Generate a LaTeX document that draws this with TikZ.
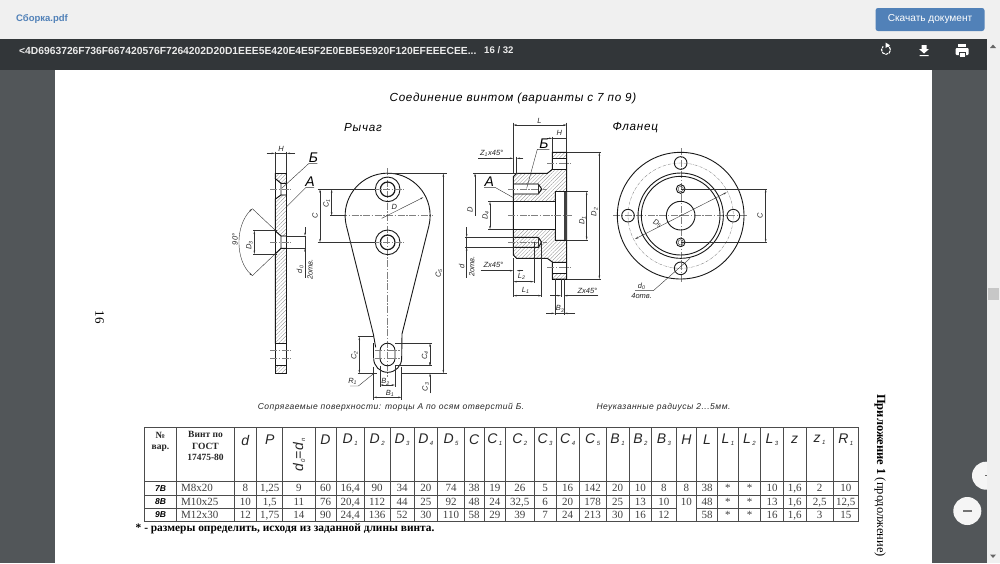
\documentclass[tikz,border=0pt]{standalone}
\usepackage{fontspec}
\setmainfont{Liberation Serif}
\newfontfamily\gostfont{Liberation Sans}
\newfontfamily\widefont[LetterSpace=6]{Liberation Sans}
\usetikzlibrary{arrows.meta,patterns.meta}

\definecolor{toolbar}{HTML}{323639}
\definecolor{viewer}{HTML}{525659}
\definecolor{topband}{HTML}{F0F0F0}
\definecolor{vkblue}{HTML}{5181B8}

\newcommand{\hdr}[2]{#1\kern1.5pt\raisebox{-2pt}{\fontsize{6}{6}\selectfont #2}}

\tikzset{
  outline/.style={line width=.9pt,black!90},
  thinline/.style={line width=.4pt,black!80},
  axisline/.style={line width=.35pt,black!50,dash pattern=on 7pt off 1.5pt on 1.5pt off 1.5pt},
  dimline/.style={line width=.4pt,black!80,<->,>={Stealth[length=3.5pt,width=1.6pt]}},
  dimtip/.style={line width=.4pt,black!80,->,>={Stealth[length=3.5pt,width=1.6pt]}},
  hatched/.style={pattern={Lines[angle=45,distance=2.6pt,line width=.3pt]},pattern color=black!45},
  dimlabel/.style={font=\gostfont\itshape\fontsize{7.5}{8}\selectfont,inner sep=0pt,black!85},
  biglabel/.style={font=\gostfont\itshape\fontsize{14}{14}\selectfont,inner sep=0pt},
  titlelabel/.style={font=\widefont\itshape\fontsize{11.7}{13}\selectfont,inner sep=0pt},
  notelabel/.style={font=\widefont\itshape\fontsize{8.5}{10}\selectfont,inner sep=0pt,black!85},
  headcell/.style={font=\gostfont\itshape\fontsize{14}{14}\selectfont,inner sep=0pt,black!85},
  headserif/.style={font=\bfseries\fontsize{9.5}{11.5}\selectfont,inner sep=0pt,align=center,black!85},
  datacell/.style={font=\fontsize{11}{11}\selectfont,inner sep=0pt,text height=7pt,text depth=0pt,black!75},
  rowcell/.style={font=\gostfont\bfseries\itshape\fontsize{8.5}{9}\selectfont,inner sep=0pt},
  tablegrid/.style={line width=.8pt,black!70},
  uitext/.style={font=\gostfont\fontsize{10}{12}\selectfont,inner sep=0pt},
  leverview/.style={shift={(220,110)},x=.33333pt,y=-.33333pt},
  sectionview/.style={shift={(460,110)},x=.33333pt,y=-.33333pt},
  frontview/.style={shift={(600,115)},x=.33333pt,y=-.33333pt},
}

\begin{document}
\begin{tikzpicture}[x=1pt,y=-1pt]
\useasboundingbox (0,0) rectangle (1000,563);

% viewer
\fill[viewer] (0,0) rectangle (1000,563);
\fill[white] (55,69) rectangle (931.5,563);
\fill[topband] (0,0) rectangle (1000,39);
\fill[toolbar] (0,39) rectangle (1000,69.5);
\node[uitext,anchor=west,text=vkblue,font=\gostfont\bfseries\fontsize{9.5}{12}\selectfont] (fileName) at (16,19) {Сборка.pdf};
\fill[vkblue,rounded corners=2.5pt] (875.5,8) rectangle (984.5,31);
\node[uitext,text=white,font=\gostfont\fontsize{10.1}{12}\selectfont] (saveLabel) at (930,19) {Скачать документ};
\node[uitext,anchor=west,text=white!92!black,font=\gostfont\bfseries\fontsize{10.3}{12}\selectfont] (pdfName) at (19,50.5) {<4D6963726F736F667420576F7264202D20D1EEE5E420E4E5F2E0EBE5E920F120EFEEECEE...};
\node[uitext,anchor=west,text=white!92!black,font=\gostfont\bfseries\fontsize{9.6}{12}\selectfont] (pageCount) at (484,50.5) {16 / 32};

% toolbar icons
\draw[white,line width=1.1pt,dash pattern=on 3pt off .8pt] (886,45.3) arc[start angle=270,end angle=590,radius=4.5];
\fill[white] (885.5,42.5) -- (890,45.3) -- (885.5,48) -- cycle;
\fill[white] (921.5,45) rectangle (926.5,49) (919,49) -- (929,49) -- (924,53.5) -- cycle (919.5,55) rectangle (928.5,56.2);
\fill[white,rounded corners=1pt] (955.5,48) rectangle (968.5,55);
\fill[white] (958,44) rectangle (966,47);
\fill[toolbar] (958.5,51.5) rectangle (965.5,55);
\fill[white] (959.5,52.5) rectangle (964.5,57);

% zoom buttons, scrollbar
\fill[white!96!black] (986,475.7) circle (14);
\fill[black!60] (984.5,475.2) rectangle (987,476.2);
\fill[white!96!black] (967.3,511) circle (14);
\fill[black!55] (962.5,510.4) rectangle (972,511.6);
\fill[topband] (987,39) rectangle (1000,563);
\fill[black!22] (988,288) rectangle (998.5,300);
\fill[black!60] (993,44.5) -- (996,48) -- (990,48) -- cycle;
\fill[black!60] (993,558) -- (996,554.5) -- (990,554.5) -- cycle;

% headings
\node[titlelabel] (mainTitle) at (513,98) {Соединение винтом (варианты с 7 по 9)};
\node[titlelabel] (leverTitle) at (363,127.5) {Рычаг};
\node[titlelabel] (flangeTitle) at (635.3,127.5) {Фланец};
\node[notelabel] (matingNote) at (391,407.5) {Сопрягаемые поверхности: торцы А по осям отверстий Б.};
\node[notelabel] (radiusNote) at (663.5,407.5) {Неуказанные радиусы 2...5мм.};
\node[rotate=-90,font=\fontsize{13}{14}\selectfont,inner sep=0pt] (pageNo) at (99.5,317) {16};
\node[rotate=-90,anchor=west,font=\fontsize{12.5}{14}\selectfont,inner sep=0pt] (annexTitle) at (880,394) {\textbf{Приложение 1} (продолжение)};

% lever
\begin{scope}[leverview]
\draw[hatched] (165,190) -- (200,190) -- (200,220) -- (183,220) -- (165,205) -- cycle;
\draw[hatched] (165,268) -- (183,255) -- (200,255) -- (200,378) -- (183,378) -- (165,362) -- cycle;
\draw[hatched] (165,432) -- (183,415) -- (200,415) -- (200,700) -- (165,700) -- cycle;
\draw[hatched] (165,767) -- (200,767) -- (200,790) -- (165,790) -- cycle;
\draw[outline] (165,190) rectangle (200,790);
\draw[outline] (165,205) -- (183,220) -- (200,220) (165,268) -- (183,255) -- (200,255) (183,220) -- (183,255);
\draw[outline] (165,362) -- (183,378) -- (200,378) (165,432) -- (183,415) -- (200,415) (183,378) -- (183,415);
\draw[outline] (165,700) -- (200,700) (165,767) -- (200,767);
\foreach \y in {238,397,722,745}
\draw[axisline] (150,\y) -- (212,\y);

\draw[axisline] (503,175) -- (503,800);
\draw[axisline] (360,317) -- (640,317);
\draw[outline] (379,347) arc[start angle=166.4,end angle=373.6,radius=127.5] -- (546,672) -- (545,745) arc[start angle=0,end angle=180,radius=42];
\draw[outline] (379,347) -- (460,672) -- (467,712);
\draw[outline] (461,700) -- (461,745);
\draw[outline] (480,722) arc[start angle=180,end angle=360,radius=22.5] -- (525,745) arc[start angle=0,end angle=180,radius=22.5] -- cycle;
\foreach \y in {238,397}
{
\draw[outline] (503,\y) circle (37);
\draw[outline,line width=1.2pt] (503,\y) circle (22);
\draw[axisline] (455,\y) -- (550,\y);
}
\foreach \y in {722,745}
\draw[axisline] (465,\y) -- (540,\y);

% lever dimensions
\draw[thinline] (165,125) -- (165,190) (200,125) -- (200,190);
\draw[dimtip] (140,130) -- (165,130);
\draw[dimtip] (225,130) -- (200,130);
\draw[thinline] (165,130) -- (200,130);
\node[dimlabel] (leverH) at (183,116) {H};
\draw[thinline] (185,235) -- (267,160) -- (292,160);
\node[biglabel] (leverB) at (280,144) {Б};
\draw[thinline] (200,290) -- (258,232) -- (282,232);
\node[biglabel] (leverA) at (270,215) {А};
\draw[thinline] (165,360) -- (97,296) (165,432) -- (97,497);
\draw[dimline] (97,296) .. controls (45,345) and (45,450) .. (97,497);
\node[dimlabel,rotate=90] (leverAngle) at (45,388) {90°};
\draw[thinline] (100,362) -- (170,362) (100,432) -- (170,432);
\draw[dimline] (103,362) -- (103,432);
\node[dimlabel,rotate=90] (leverD3) at (88,405) {D\textsubscript{3}};
\draw[thinline] (200,378) -- (258,378) (200,415) -- (258,415);
\draw[dimtip] (255,352) -- (255,378);
\draw[dimtip] (255,440) -- (255,415);
\draw[thinline] (255,378) -- (255,505);
\node[dimlabel,rotate=90] (leverDzero) at (240,478) {d\textsubscript{0}};
\node[dimlabel,rotate=90] (leverHoles) at (270,478) {2отв.};

\draw[thinline] (503,190) -- (680,190) (545,790) -- (680,790);
\draw[dimline] (670,190) -- (670,790);
\node[dimlabel,rotate=90] (leverCfive) at (657,490) {C\textsubscript{5}};
\draw[thinline] (293,238) -- (465,238) (293,397) -- (465,397) (330,317) -- (375,317);
\draw[dimline] (300,238) -- (300,397);
\draw[dimline] (335,238) -- (335,317);
\node[dimlabel,rotate=90] (leverC) at (285,317) {C};
\node[dimlabel,rotate=90] (leverCone) at (320,280) {C\textsubscript{1}};
\draw[dimtip] (485,325) -- (610,262);
\node[dimlabel] (leverD) at (523,290) {D};
\draw[thinline] (413,680) -- (462,680) (413,790) -- (470,790);
\draw[dimline] (418,680) -- (418,790);
\node[dimlabel,rotate=90] (leverCtwo) at (403,735) {C\textsubscript{2}};
\draw[thinline] (525,700) -- (635,700) (525,767) -- (635,767);
\draw[dimline] (630,700) -- (630,767);
\node[dimlabel,rotate=90] (leverCfour) at (615,735) {C\textsubscript{4}};
\draw[dimtip] (630,850) -- (630,790);
\draw[dimtip] (630,740) -- (630,767);
\node[dimlabel,rotate=90] (leverCthree) at (617,830) {C\textsubscript{3}};
\draw[thinline] (462,790) -- (415,828) -- (390,828);
\node[dimlabel] (leverR) at (398,815) {R\textsubscript{1}};
\draw[thinline] (480,767) -- (480,832) (525,767) -- (525,832);
\draw[dimline] (480,825) -- (525,825);
\node[dimlabel] (leverBtwo) at (497,816) {B\textsubscript{2}};
\draw[thinline] (460,770) -- (460,870) (545,770) -- (545,870);
\draw[dimline] (460,862) -- (545,862);
\node[dimlabel] (leverBone) at (510,850) {B\textsubscript{1}};
\end{scope}

% flange section
\begin{scope}[sectionview]
\draw[hatched] (277,127) rectangle (320,145);
\draw[hatched] (277,490) rectangle (320,507);
\draw[hatched] (160,200) -- (170,190) -- (262,190) -- (277,178) -- (320,178) -- (320,245) -- (285,245) -- (285,275) -- (160,275) -- (160,252) -- (235,252) -- (245,237) -- (235,222) -- (160,222) -- cycle;
\draw[hatched] (160,435) -- (170,445) -- (262,445) -- (277,456) -- (320,456) -- (320,390) -- (285,390) -- (285,358) -- (160,358) -- (160,412) -- (235,412) -- (245,397) -- (235,382) -- (160,382) -- cycle;
\draw[outline] (160,200) -- (170,190) -- (262,190) -- (277,178) -- (277,127) -- (320,127) -- (320,507) -- (277,507) -- (277,456) -- (262,445) -- (170,445) -- (160,435) -- cycle;
\draw[outline] (277,145) -- (320,145) (277,178) -- (320,178) (277,456) -- (320,456) (277,490) -- (320,490);
\draw[outline] (160,275) -- (285,275) -- (285,358) -- (160,358);
\draw[outline] (285,245) rectangle (320,390);
\fill[black!75] (312,245) rectangle (320,390);
\foreach \y in {237,397}
{
\draw[outline] (160,\y-15) -- (235,\y-15) -- (245,\y) -- (235,\y+15) -- (160,\y+15);
\draw[thinline] (235,\y-15) -- (235,\y+15);
\draw[axisline] (145,\y) -- (260,\y);
}
\draw[axisline] (145,317) -- (335,317);
\draw[axisline] (262,161) -- (332,161);
\draw[axisline] (262,473) -- (332,473);

% section dimensions
\draw[thinline] (160,38) -- (160,190) (320,38) -- (320,127);
\draw[dimline] (160,45) -- (320,45);
\node[dimlabel] (sectionL) at (238,32) {L};
\draw[thinline] (277,80) -- (277,127);
\draw[dimtip] (262,85) -- (277,85);
\draw[thinline] (277,85) -- (320,85);
\node[dimlabel] (sectionH) at (298,68) {H};
\draw[thinline] (170,140) -- (170,190);
\draw[dimtip] (55,145) -- (160,145);
\draw[dimtip] (190,145) -- (170,145);
\node[dimlabel] (sectionZone) at (95,130) {Z\textsubscript{1}x45°};
\draw[thinline] (200,235) -- (232,118) -- (268,118);
\node[biglabel] (sectionB) at (252,101) {Б};
\draw[thinline] (158,262) -- (105,232) -- (72,232);
\node[biglabel] (sectionA) at (88,215) {А};
\draw[thinline] (40,190) -- (175,190);
\draw[dimtip] (45,317) -- (45,190);
\node[dimlabel,rotate=90] (sectionD) at (30,300) {D};
\draw[thinline] (85,275) -- (160,275) (85,358) -- (160,358);
\draw[dimline] (90,275) -- (90,358);
\node[dimlabel,rotate=90] (sectionDfour) at (77,315) {D\textsubscript{4}};
\draw[thinline] (15,382) -- (165,382) (15,412) -- (165,412);
\draw[dimtip] (20,352) -- (20,382);
\draw[dimtip] (20,440) -- (20,412);
\draw[thinline] (20,382) -- (20,505);
\node[dimlabel,rotate=90] (sectionDthin) at (5,470) {d};
\node[dimlabel,rotate=90] (sectionHoles) at (35,470) {2отв.};
\draw[dimtip] (62,482) -- (160,482);
\draw[dimtip] (190,482) -- (170,482);
\node[dimlabel] (sectionZleft) at (100,465) {Zx45°};
\draw[thinline] (222,397) -- (222,520) (245,397) -- (245,562) (160,445) -- (160,562);
\draw[dimline] (160,515) -- (222,515);
\node[dimlabel] (sectionLthree) at (185,500) {L\textsubscript{2}};
\draw[dimline] (160,557) -- (245,557);
\node[dimlabel] (sectionLone) at (197,542) {L\textsubscript{1}};
\draw[thinline] (285,507) -- (285,615) (312,507) -- (312,615);
\draw[dimtip] (258,610) -- (285,610);
\draw[dimtip] (345,610) -- (312,610);
\draw[thinline] (285,610) -- (312,610);
\node[dimlabel] (sectionBthree) at (300,597) {B\textsubscript{3}};
\draw[dimtip] (415,557) -- (312,557);
\draw[dimtip] (270,557) -- (303,557);
\draw[thinline] (303,507) -- (303,562);
\node[dimlabel] (sectionZright) at (382,542) {Zx45°};
\draw[thinline] (320,245) -- (383,245) (320,390) -- (383,390);
\draw[dimline] (380,245) -- (380,390);
\node[dimlabel,rotate=90] (sectionDone) at (367,330) {D\textsubscript{1}};
\draw[thinline] (320,127) -- (422,127) (320,507) -- (422,507);
\draw[dimline] (418,127) -- (418,507);
\node[dimlabel,rotate=90] (sectionDtwo) at (403,305) {D\textsubscript{2}};
\end{scope}

% flange front view
\begin{scope}[frontview]
\draw[axisline] (242,100) -- (242,505);
\draw[axisline] (40,302) -- (445,302);
\draw[outline] (242,302) circle (190);
\draw[axisline,densely dashdotted] (242,302) circle (158);
\draw[outline] (242,302) circle (128);
\draw[outline] (242,302) circle (118);
\draw[outline] (242,302) circle (43);
\foreach \hx/\hy in {0/-158,0/158,-158/0,158/0}
\draw[outline] (242+\hx,302+\hy) circle (19);
\foreach \hy in {-80,80}
{
\draw[outline] (242,302+\hy) circle (13);
\draw[thinline] (242,302+\hy) circle (8);
}
\draw[thinline] (242,222) -- (502,222) (242,382) -- (502,382);
\draw[dimline] (497,222) -- (497,382);
\node[dimlabel,rotate=90] (frontC) at (480,302) {C};
\draw[dimline] (105,372) -- (380,232);
\node[dimlabel,rotate=-27] (frontDfive) at (172,325) {D\textsubscript{5}};
\draw[thinline] (270,430) -- (160,527) -- (105,527);
\node[dimlabel] (frontDzero) at (125,513) {d\textsubscript{0}};
\node[dimlabel] (frontHoles) at (125,543) {4отв.};
\end{scope}

% table
\foreach \xa/\xb/\lab/\na/\nb/\nc [count=\i] in {
234/256.7/d/8/10/12,
256.7/282.7/P/{1,25}/{1,5}/{1,75},
282.7/315//9/11/14,
315/336/D/60/76/90,
336/364.3/\hdr{D}{1}/{16,4}/{20,4}/{24,4},
364.3/390/\hdr{D}{2}/90/112/136,
390/414/\hdr{D}{3}/34/44/52,
414/437.7/\hdr{D}{4}/20/25/30,
437.7/464.3/\hdr{D}{5}/74/92/110,
464.3/484/C/38/48/58,
484/505.7/\hdr{C}{1}/19/24/29,
505.7/534/\hdr{C}{2}/26/{32,5}/39,
534/556/\hdr{C}{3}/5/6/7,
556/579.3/\hdr{C}{4}/16/20/24,
579.3/606/\hdr{C}{5}/142/178/213,
606/629/\hdr{B}{1}/20/25/30,
629/651.7/\hdr{B}{2}/10/13/16,
651.7/676/\hdr{B}{3}/8/10/12,
676/696.7/H/8/10/,
696.7/717.3/L/38/48/58,
717.3/738.3/\hdr{L}{1}/*/*/*,
738.3/760.7/\hdr{L}{2}/*/*/*,
760.7/783.3/\hdr{L}{3}/10/13/16,
783.3/806/z/{1,6}/{1,6}/{1,6},
806/833.3/\hdr{z}{1}/2/{2,5}/3,
833.3/858.3/\hdr{R}{1}/10/{12,5}/15}
{
\node[headcell] (head\i) at ({(\xa+\xb)/2},440) {\lab};
\node[datacell] (rowa\i) at ({(\xa+\xb)/2},488.3) {\na};
\node[datacell] (rowb\i) at ({(\xa+\xb)/2},501.7) {\nb};
\node[datacell] (rowc\i) at ({(\xa+\xb)/2},515) {\nc};
\draw[tablegrid] (\xa,427.3) -- (\xa,521.7);
}
\node[headcell,rotate=90] (headEqual) at (299,455) {\hdr{d}{0}=\hdr{d}{n}};
\node[headserif] (headNo) at (160.5,442) {№\\вар.};
\node[headserif] (headScrew) at (205.5,446) {Винт по\\ГОСТ\\17475-80};
\foreach \y/\v/\s [count=\i] in {488.3/7В/М8х20,501.7/8В/М10х25,515/9В/М12х30}
{
\node[rowcell] (variant\i) at (160.5,\y) {\v};
\node[datacell,anchor=west] (screw\i) at (181,\y) {\s};
}
\foreach \x in {144.3,176.7,858.3}
\draw[tablegrid] (\x,427.3) -- (\x,521.7);
\foreach \y in {427.3,495,521.7}
\draw[tablegrid] (144.3,\y) -- (858.3,\y);
\draw[tablegrid] (144.3,508.3) -- (676,508.3) (696.7,508.3) -- (858.3,508.3);
\draw[tablegrid,line width=1.3pt] (144.3,481.7) -- (858.3,481.7);
\node[anchor=west,font=\bfseries\fontsize{11.4}{13}\selectfont,inner sep=0pt] (footNote) at (135.5,529) {* - размеры определить, исходя из заданной длины винта.};
\end{tikzpicture}
\end{document}
